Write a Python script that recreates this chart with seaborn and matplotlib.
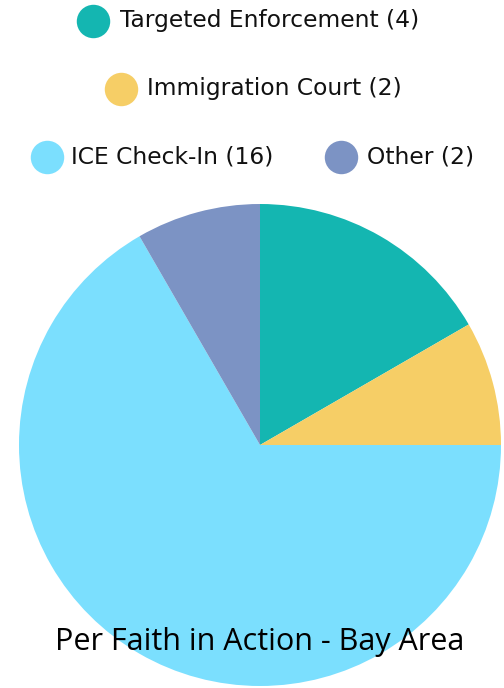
import matplotlib
matplotlib.use("Agg")
import matplotlib.pyplot as plt
import seaborn as sns

categories = ["Targeted Enforcement", "Immigration Court", "ICE Check-In", "Other"]
values = [4, 2, 16, 2]
colors = ["#14B6B1", "#F6CE66", "#7BDFFE", "#7C93C4"]
caption = "Per Faith in Action - Bay Area"

sns.set_theme(style="white")
plt.rcParams["font.family"] = ["DejaVu Sans"]

W, H = 504, 688
fig = plt.figure(figsize=(W / 100, H / 100), dpi=100)
ax = fig.add_axes([0, 0, 1, 1])

ax.pie(values, colors=colors, startangle=90, counterclock=False,
       center=(260, H - 445), radius=241, frame=True,
       wedgeprops=dict(linewidth=0))
ax.set_xlim(0, W)
ax.set_ylim(0, H)
ax.set_aspect("equal")
ax.axis("off")

labels = [f"{c} ({v})" for c, v in zip(categories, values)]
# legend layout: (marker x, text x, y) in pixel coords from top
legend_pos = [(93, 120, 21), (121, 147, 89), (47, 71, 157), (341, 367, 157)]
for (mx, tx, y), lab, col in zip(legend_pos, labels, colors):
    ax.scatter([mx], [H - y], s=580, color=col, linewidths=0, zorder=5)
    ax.text(tx, H - y, lab, fontsize=16.8, color="#111111", va="center",
            ha="left")

ax.text(260, H - 642, caption, fontsize=22, color="black", ha="center",
        va="center", family=["Open Sans", "DejaVu Sans"])

fig.savefig("out.png", dpi=100)
